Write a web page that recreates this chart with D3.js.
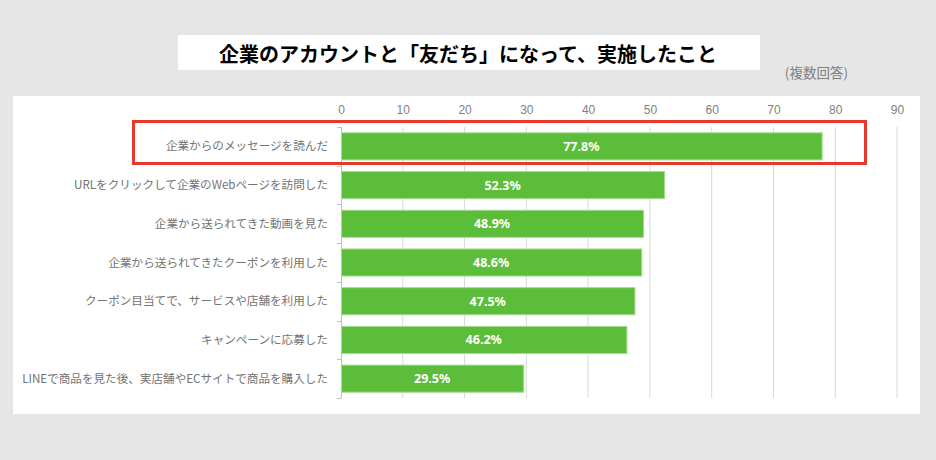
<!DOCTYPE html>
<html><head><meta charset="utf-8">
<script src="https://cdn.jsdelivr.net/npm/d3@7/dist/d3.min.js"></script>
<style>html,body{margin:0;padding:0;background:#e6e6e6;}svg{display:block;}</style>
</head><body>
<script>
const categories = [
  "企業からのメッセージを読んだ",
  "URLをクリックして企業のWebページを訪問した",
  "企業から送られてきた動画を見た",
  "企業から送られてきたクーポンを利用した",
  "クーポン目当てで、サービスや店舗を利用した",
  "キャンペーンに応募した",
  "LINEで商品を見た後、実店舗やECサイトで商品を購入した"
];
const values = [77.8, 52.3, 48.9, 48.6, 47.5, 46.2, 29.5];
const tickValues = [0, 10, 20, 30, 40, 50, 60, 70, 80, 90];
const titleText = "企業のアカウントと「友だち」になって、実施したこと";
const noteText = "(複数回答)";

const W = 936, H = 460;
const svg = d3.select("body").append("svg").attr("width", W).attr("height", H);
svg.append("rect").attr("width", W).attr("height", H).attr("fill", "#e6e6e6");

// title box
svg.append("rect").attr("x", 178).attr("y", 35).attr("width", 582).attr("height", 35).attr("fill", "#fff");
svg.append("text").attr("x", 468).attr("y", 62).attr("text-anchor", "middle")
  .attr("font-family", "'Noto Sans CJK JP'").attr("font-weight", 700).attr("font-size", 20)
  .attr("fill", "#000").text(titleText);
svg.append("text").attr("x", 848).attr("y", 78).attr("text-anchor", "end")
  .attr("font-family", "'Noto Sans CJK JP'").attr("font-size", 13.5)
  .attr("fill", "#7f7f7f").text(noteText);

// panel
svg.append("rect").attr("x", 13).attr("y", 96).attr("width", 907).attr("height", 318).attr("fill", "#fff");

const x = d3.scaleLinear().domain([0, 90]).range([341, 897]);
const y = d3.scaleBand().domain(categories).range([127, 398]).paddingInner(0.3).paddingOuter(0.15);

// gridlines
svg.append("g").selectAll("line").data(tickValues.filter(d => d > 0)).join("line")
  .attr("x1", d => x(d)).attr("x2", d => x(d)).attr("y1", 127).attr("y2", 398)
  .attr("stroke", "#d9d9d9").attr("stroke-width", 1);

// top tick labels
const xAxis = svg.append("g").attr("transform", "translate(0,114)")
  .call(d3.axisTop(x).tickValues(tickValues).tickSize(0).tickPadding(0));
xAxis.select(".domain").remove();
xAxis.selectAll("text").attr("font-family", "'Liberation Sans Narrow', 'Liberation Sans'")
  .attr("font-size", 12).attr("fill", "#7f7f7f").attr("dy", 0);

// left axis
svg.append("line").attr("x1", x(0) + 0.5).attr("x2", x(0) + 0.5).attr("y1", 127).attr("y2", 398)
  .attr("stroke", "#bfbfbf");
const bounds = categories.map(c => y(c) - y.step() * y.paddingInner() / 2);
bounds.push(398);
bounds[0] = 127;
svg.append("g").selectAll("line").data(bounds).join("line")
  .attr("x1", x(0) - 4).attr("x2", x(0) + 0.5).attr("y1", d => Math.round(d) + 0.5).attr("y2", d => Math.round(d) + 0.5)
  .attr("stroke", "#bfbfbf");

// category labels
svg.append("g").selectAll("text").data(categories).join("text")
  .attr("x", 328).attr("y", d => y(d) + y.bandwidth() / 2).attr("dy", "0.35em")
  .attr("text-anchor", "end").attr("font-family", "'Noto Sans CJK JP'").attr("font-size", 11.6)
  .attr("fill", "#737373").text(d => d);

// bars
svg.append("g").selectAll("rect").data(values).join("rect")
  .attr("x", x(0) + 0.5).attr("y", (d, i) => y(categories[i]))
  .attr("width", d => x(d) - x(0)).attr("height", y.bandwidth())
  .attr("fill", "#5bbd3a").attr("stroke", "#a6db92").attr("stroke-width", 1);

// value labels
svg.append("g").selectAll("text").data(values).join("text")
  .attr("x", d => (x(0) + x(d)) / 2).attr("y", (d, i) => y(categories[i]) + y.bandwidth() / 2)
  .attr("dy", "0.36em").attr("text-anchor", "middle")
  .attr("font-family", "'Noto Sans', 'Open Sans'").attr("font-weight", 700).attr("font-size", 12.5)
  .attr("fill", "#fff").text(d => d.toFixed(1) + "%");

// highlight box
svg.append("rect").attr("x", 133.5).attr("y", 121.5).attr("width", 732).attr("height", 42)
  .attr("fill", "none").attr("stroke", "#e8382c").attr("stroke-width", 3);
</script>
</body></html>
